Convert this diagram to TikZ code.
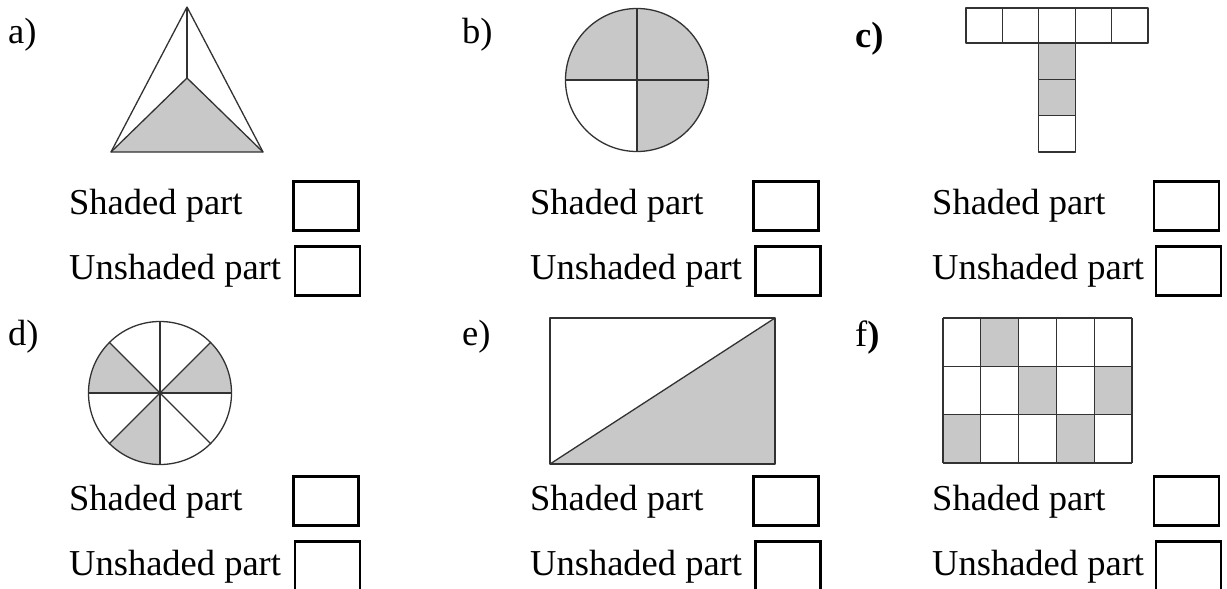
\documentclass[tikz,border=0pt]{standalone}
\usepackage{fontspec}
\setmainfont{Liberation Serif}
\usepackage{xcolor}
\usetikzlibrary{positioning, calc}

\definecolor{shadegray}{RGB}{200,200,200}
\definecolor{edgegray}{RGB}{50,50,50}

\begin{document}
\begin{tikzpicture}[x=1pt, y=-1pt,
    fig/.style={draw=edgegray, line width=1.3pt, line join=round},
    shaded/.style={fill=shadegray},
    tag/.style={anchor=base west, inner sep=0pt, font=\fontsize{36.5}{40}\selectfont},
    answer/.style={draw=black, line width=2.6pt, minimum width=65pt, minimum height=49pt, inner sep=0pt}]
    \clip (0,0) rectangle (1227,589);
    \fill[white] (0,0) rectangle (1227,589);

    % a) Triangle, lower part shaded
    \node[tag] (la) at (8,43) {a)};
    \coordinate (tapex) at (187,7);
    \coordinate (tleft) at (111,152);
    \coordinate (tright) at (263,152);
    \coordinate (tmid) at (187,78);
    \fill[shaded] (tleft) -- (tmid) -- (tright) -- cycle;
    \draw[fig] (tapex) -- (tleft) -- (tright) -- cycle;
    \draw[fig] (tleft) -- (tmid) -- (tright);
    \draw[fig] (tmid) -- (tapex);
    \node[tag] (sa) at (69,214) {Shaded part};
    \node[tag] (ua) at (69,279) {Unshaded part};
    \node[answer] (bsa) at (326,206) {};
    \node[answer] (bua) at (327.5,271) {};

    % b) Circle in quarters
    \node[tag] (lb) at (462,43) {b)};
    \coordinate (bctr) at (637,80);
    \fill[shaded] (bctr) -- +(180:71.5) arc[start angle=180, end angle=450, radius=71.5] -- cycle;
    \draw[fig] (bctr) circle[radius=71.5];
    \draw[fig] ($(bctr)+(-71.5,0)$) -- ($(bctr)+(71.5,0)$);
    \draw[fig] ($(bctr)+(0,-71.5)$) -- ($(bctr)+(0,71.5)$);
    \node[tag] (sb) at (530,214) {Shaded part};
    \node[tag] (ub) at (530,279) {Unshaded part};
    \node[answer] (bsb) at (786,206) {};
    \node[answer] (bub) at (788,271) {};

    % c) T of squares
    \node[tag] (lc) at (855,47) {\bfseries c)};
    \fill[shaded] (1039,43) rectangle (1075.4,115.6);
    \foreach \i in {0,...,4}
        \draw[fig] (966+\i*36.4,8) rectangle +(36.4,35);
    \foreach \j in {0,1,2}
        \draw[fig] (1038.8,43+\j*36.3) rectangle +(36.4,36.3);
    \node[tag] (sc) at (932,214) {Shaded part};
    \node[tag] (uc) at (932,279) {Unshaded part};
    \node[answer] (bsc) at (1186.5,206) {};
    \node[answer] (buc) at (1188.5,271) {};

    % d) Circle in eighths
    \node[tag] (ld) at (8,345) {d)};
    \coordinate (dctr) at (160,393);
    \foreach \a in {-45,180,90}
        \fill[shaded] (dctr) -- +(\a:71.5) arc[start angle=\a, end angle=\a+45, radius=71.5] -- cycle;
    \draw[fig] (dctr) circle[radius=71.5];
    \foreach \a in {0,45,90,135}
        \draw[fig] ($(dctr)+(\a:71.5)$) -- ($(dctr)+(\a+180:71.5)$);
    \node[tag] (sd) at (69,510) {Shaded part};
    \node[tag] (ud) at (69,575) {Unshaded part};
    \node[answer] (bsd) at (326,501) {};
    \node[answer] (bud) at (327.5,566) {};

    % e) Rectangle cut by its diagonal
    \node[tag] (le) at (462,345) {e)};
    \coordinate (ebl) at (550,464);
    \coordinate (etr) at (775,318);
    \fill[shaded] (ebl) -- (etr) -- (ebl -| etr) -- cycle;
    \draw[fig] (ebl) rectangle (etr);
    \draw[fig] (ebl) -- (etr);
    \node[tag] (se) at (530,510) {Shaded part};
    \node[tag] (ue) at (530,575) {Unshaded part};
    \node[answer] (bse) at (786,501) {};
    \node[answer] (bue) at (788,566) {};

    % f) Grid of 15 cells
    \node[tag] (lf) at (855,346) {f\textbf{)}};
    \foreach \c/\r in {2/1,3/2,5/2,1/3,4/3}
        \fill[shaded] (943+\c*37.8-37.8,318+\r*48.33-48.33) rectangle +(37.8,48.33);
    \foreach \i in {0,...,5}
        \draw[fig] (943+\i*37.8,318) -- (943+\i*37.8,463);
    \foreach \j in {0,...,3}
        \draw[fig] (943,318+\j*48.33) -- (1132,318+\j*48.33);
    \node[tag] (sf) at (932,510) {Shaded part};
    \node[tag] (uf) at (932,575) {Unshaded part};
    \node[answer] (bsf) at (1186.5,501) {};
    \node[answer] (buf) at (1188.5,566) {};

\end{tikzpicture}
\end{document}
